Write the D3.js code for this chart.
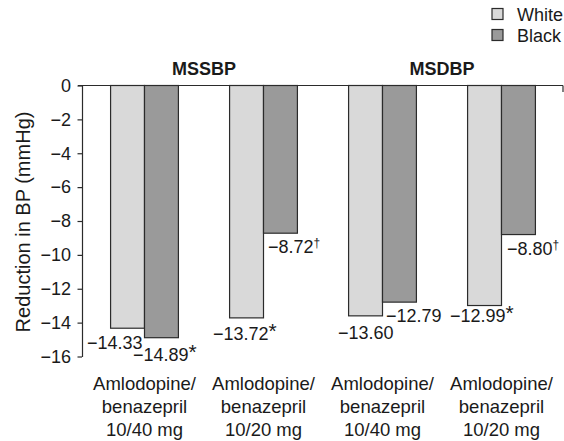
<!DOCTYPE html>
<html>
<head>
<meta charset="utf-8">
<script src="https://cdn.jsdelivr.net/npm/d3@7"></script>
<style>
    body { margin: 0; background: #fff; }
    svg { display: block; font-family: "Liberation Sans", Arial, sans-serif; }
</style>
</head>
<body>
<div id="chart"></div>
<script>
'use strict';

var categories = ['A/B 10/40 SBP', 'A/B 10/20 SBP', 'A/B 10/40 DBP', 'A/B 10/20 DBP'];
var categoryLines = [
    ['Amlodopine/', 'benazepril', '10/40 mg'],
    ['Amlodopine/', 'benazepril', '10/20 mg'],
    ['Amlodopine/', 'benazepril', '10/40 mg'],
    ['Amlodopine/', 'benazepril', '10/20 mg']
];
var groupTitles = ['MSSBP', 'MSDBP'];
var seriesNames = ['White', 'Black'];
var whiteValues = [-14.33, -13.72, -13.60, -12.99];
var blackValues = [-14.89, -8.72, -12.79, -8.80];
var whiteMarks = ['', '*', '', '*'];
var blackMarks = ['*', '\u2020', '', '\u2020'];
var yTicks = [0, -2, -4, -6, -8, -10, -12, -14, -16];

// label nudges relative to bar left / bar bottom (layout only)
var whiteNudge = [[-23.6, 20.3], [-16.6, 22.6], [-10.6, 23.1], [-17.6, 16.5]];
var blackNudge = [[-11.5, 23.3], [4.5, 19.8], [3.5, 19.8], [5.5, 20.4]];

var width = 564;
var height = 441;
var fills = { White: '#d9d9d9', Black: '#9a9a9a' };
var stroke = '#2b2b2b';

var svg = d3.select('#chart').append('svg')
    .attr('width', width)
    .attr('height', height);

var x0 = d3.scaleBand()
    .domain(categories)
    .range([85, 561])
    .paddingInner(0.43)
    .paddingOuter(0.215);

var x1 = d3.scaleBand()
    .domain(seriesNames)
    .range([0, x0.bandwidth()]);

var y = d3.scaleLinear()
    .domain([0, -16])
    .range([85.5, 356.5]);

var axisX = 82;
var fmt = d3.format('.2f');
var tickFmt = d3.format('d');

// y axis
var yAxis = svg.append('g')
    .attr('transform', 'translate(' + axisX + ',0)')
    .call(d3.axisLeft(y).tickValues(yTicks).tickFormat(tickFmt).tickSize(4.5).tickSizeOuter(0));
yAxis.select('.domain').attr('stroke', stroke).attr('stroke-width', 1.2);
yAxis.selectAll('.tick line').attr('stroke', stroke).attr('stroke-width', 1.2);
yAxis.selectAll('.tick text')
    .attr('x', -11)
    .attr('font-size', 18)
    .attr('fill', '#1a1a1a')
    .attr('font-family', '"Liberation Sans", Arial, sans-serif');

svg.append('text')
    .attr('transform', 'translate(30,' + 222 + ') rotate(-90)')
    .attr('text-anchor', 'middle')
    .attr('font-size', 20)
    .attr('fill', '#1a1a1a')
    .text('Reduction in BP (mmHg)');

// bars
var rows = categories.map(function (c, i) {
    return [
        { cat: c, series: 'White', value: whiteValues[i], mark: whiteMarks[i], nudge: whiteNudge[i] },
        { cat: c, series: 'Black', value: blackValues[i], mark: blackMarks[i], nudge: blackNudge[i] }
    ];
});

var groups = svg.selectAll('g.group')
    .data(rows)
    .join('g')
    .attr('class', 'group')
    .attr('transform', function (d, i) { return 'translate(' + x0(categories[i]) + ',0)'; });

groups.selectAll('rect')
    .data(function (d) { return d; })
    .join('rect')
    .attr('x', function (d) { return x1(d.series); })
    .attr('y', y(0))
    .attr('width', x1.bandwidth())
    .attr('height', function (d) { return y(d.value) - y(0); })
    .attr('fill', function (d) { return fills[d.series]; })
    .attr('stroke', stroke)
    .attr('stroke-width', 1.2);

var labels = groups.selectAll('text.value')
    .data(function (d) { return d; })
    .join('text')
    .attr('class', 'value')
    .attr('x', function (d) { return x1(d.series) + d.nudge[0]; })
    .attr('y', function (d) { return y(d.value) + d.nudge[1]; })
    .attr('font-size', 18)
    .attr('fill', '#1a1a1a');

labels.append('tspan').text(function (d) { return fmt(d.value); });
labels.filter(function (d) { return d.mark === '*'; })
    .append('tspan')
    .attr('font-size', 21)
    .attr('dy', -2)
    .text('*');
labels.filter(function (d) { return d.mark === '\u2020'; })
    .append('tspan')
    .attr('font-size', 12)
    .attr('dy', -6)
    .text('\u2020');

// zero line across the top
svg.append('line')
    .attr('x1', 78).attr('x2', 563)
    .attr('y1', y(0)).attr('y2', y(0))
    .attr('stroke', stroke)
    .attr('stroke-width', 1.2);
svg.append('line')
    .attr('x1', 563).attr('x2', 563)
    .attr('y1', y(0)).attr('y2', y(0) + 6.5)
    .attr('stroke', stroke)
    .attr('stroke-width', 1.2);

// category labels
var catLabels = svg.selectAll('text.cat')
    .data(categoryLines)
    .join('text')
    .attr('class', 'cat')
    .attr('text-anchor', 'middle')
    .attr('font-size', 18.5)
    .attr('fill', '#1a1a1a')
    .attr('x', function (d, i) { return x0(categories[i]) + x0.bandwidth() / 2; })
    .attr('y', 390);

catLabels.selectAll('tspan')
    .data(function (d) { return d; })
    .join('tspan')
    .attr('x', function () { return d3.select(this.parentNode).attr('x'); })
    .attr('dy', function (d, i) { return i === 0 ? 0 : 23; })
    .text(function (d) { return d; });

// group titles
svg.selectAll('text.title')
    .data(groupTitles)
    .join('text')
    .attr('class', 'title')
    .attr('text-anchor', 'middle')
    .attr('font-size', 18)
    .attr('font-weight', 'bold')
    .attr('fill', '#1a1a1a')
    .attr('x', function (d, i) {
        var a = x0(categories[i * 2]);
        var b = x0(categories[i * 2 + 1]) + x0.bandwidth();
        return (a + b) / 2;
    })
    .attr('y', 74.5)
    .text(function (d) { return d; });

// legend
var legend = svg.selectAll('g.legend')
    .data(seriesNames)
    .join('g')
    .attr('class', 'legend')
    .attr('transform', function (d, i) { return 'translate(492,' + (8.5 + i * 21) + ')'; });

legend.append('rect')
    .attr('width', 11)
    .attr('height', 11)
    .attr('fill', function (d) { return fills[d]; })
    .attr('stroke', stroke)
    .attr('stroke-width', 1.2);

legend.append('text')
    .attr('x', 25)
    .attr('y', 12)
    .attr('font-size', 18)
    .attr('fill', '#1a1a1a')
    .text(function (d) { return d; });
</script>
</body>
</html>
